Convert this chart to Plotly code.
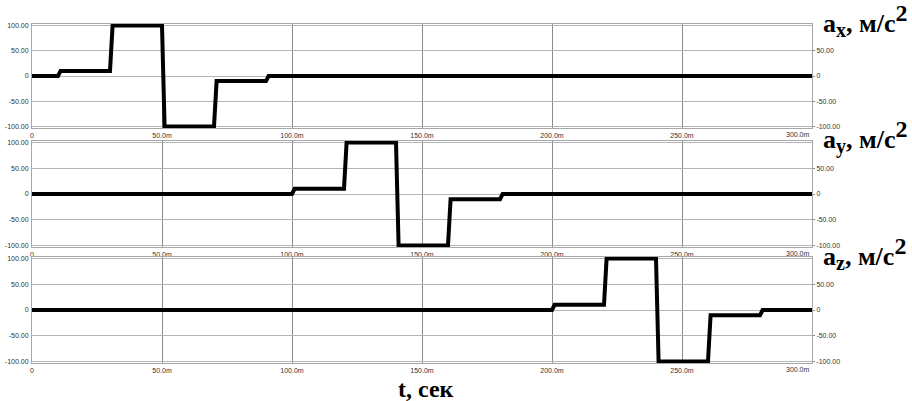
import plotly.graph_objects as go

# ---- data ----
t_x = [0, 10, 11, 30, 31, 50, 51, 70, 71, 90, 91, 300]
t_y = [0, 100, 101, 120, 121, 140, 141, 160, 161, 180, 181, 300]
t_z = [0, 200, 201, 220, 221, 240, 241, 260, 261, 280, 281, 300]
a_vals = [0, 0, 10, 10, 100, 100, -100, -100, -10, -10, 0, 0]

x_tickvals = [0, 50, 100, 150, 200, 250]
x_ticktext = ["0", "50.0m", "100.0m", "150.0m", "200.0m", "250.0m"]
x_last_val = 300
x_last_text = "300.0m"
yl_tickvals = [-100, -50, 0, 50, 100]
yl_ticktext = ["-100.00", "-50.00", "0", "50.00", "100.00"]
yr_tickvals = [-100, -50, 0, 50]
yr_ticktext = ["-100.00", "-50.00", "0", "50.00"]
titles = [("x", "a"), ("y", "a"), ("z", "a")]
xlabel = "t, сек"

W, H = 912, 401
L, R, T, B = 32, 100, 24, 38
ph = H - T - B
pw = W - L - R
panels_px = [(24, 128), (141, 247), (257, 363)]


def py(p):
    return (H - B - p) / ph


fig = go.Figure()
series = [(t_x, a_vals), (t_y, a_vals), (t_z, a_vals)]
tickfont = dict(family="Liberation Sans, Arial", size=7, color="#333333")
for i, (tt, vv) in enumerate(series):
    k = "" if i == 0 else str(i + 1)
    fig.add_trace(go.Scatter(x=tt, y=vv, mode="lines", xaxis="x" + k, yaxis="y" + k,
                             line=dict(color="black", width=4), hoverinfo="skip",
                             showlegend=False))
    rk = str(i + 4)
    fig.add_trace(go.Scatter(x=tt, y=vv, mode="lines", xaxis="x" + k, yaxis="y" + rk,
                             line=dict(color="rgba(0,0,0,0)", width=0), hoverinfo="skip",
                             showlegend=False))
    top, bot = panels_px[i]
    dom = [py(bot), py(top)]
    fig.update_layout(**{
        "xaxis" + k: dict(domain=[0, 1], range=[0, 300], anchor="y" + k,
                          tickvals=x_tickvals, ticktext=x_ticktext, ticks="",
                          showgrid=True, gridcolor="#8a8a8a", gridwidth=1,
                          showline=True, linecolor="#a8a8a8", linewidth=1, mirror=True,
                          zeroline=False, tickfont=tickfont, ticklabelstandoff=1,
                          automargin=False),
        "yaxis" + k: dict(domain=dom, range=[-103, 103], anchor="x" + k,
                          tickvals=yl_tickvals, ticktext=yl_ticktext, ticks="",
                          showgrid=True, gridcolor="#b4b4b4", gridwidth=1,
                          showline=True, linecolor="#a8a8a8", linewidth=1, mirror=True,
                          zeroline=False, tickfont=tickfont, ticklabelstandoff=1,
                          automargin=False),
        "yaxis" + rk: dict(domain=dom, range=[-103, 103], anchor="x" + k,
                           overlaying="y" + k, side="right",
                           tickvals=yr_tickvals, ticktext=yr_ticktext,
                           ticks="outside", ticklen=2, tickcolor="#888888",
                           showgrid=False, zeroline=False, showline=False,
                           tickfont=tickfont, ticklabelstandoff=0, automargin=False),
    })
    fig.add_annotation(x=x_last_val, y=py(bot + 1), xref="x" + k, yref="paper",
                       text=x_last_text, showarrow=False, xanchor="right", yanchor="top",
                       font=tickfont)
    sub, base = titles[i]
    txt = (base + "<sub><span style='font-size:20px'>" + sub + "</span></sub>, м/с"
           + "<sup><span style='font-size:24px'>2</span></sup>")
    fig.add_annotation(x=(821 - L) / pw, y=py(top - 4), xref="paper", yref="paper",
                       text=txt, showarrow=False, xanchor="left", yanchor="middle",
                       font=dict(family="Liberation Serif, Times New Roman", size=26,
                                 color="black", weight="bold"))

fig.add_annotation(x=0.505, y=py(389), xref="paper", yref="paper", text=xlabel,
                   showarrow=False, xanchor="center", yanchor="middle",
                   font=dict(family="Liberation Serif, Times New Roman", size=24,
                             color="black", weight="bold"))

fig.update_layout(width=W, height=H, margin=dict(l=L, r=R, t=T, b=B, autoexpand=False),
                  paper_bgcolor="white", plot_bgcolor="white")
fig.write_html("out.html", config={"displayModeBar": False},
               post_script="document.body.style.margin='0';document.body.style.padding='0';")
